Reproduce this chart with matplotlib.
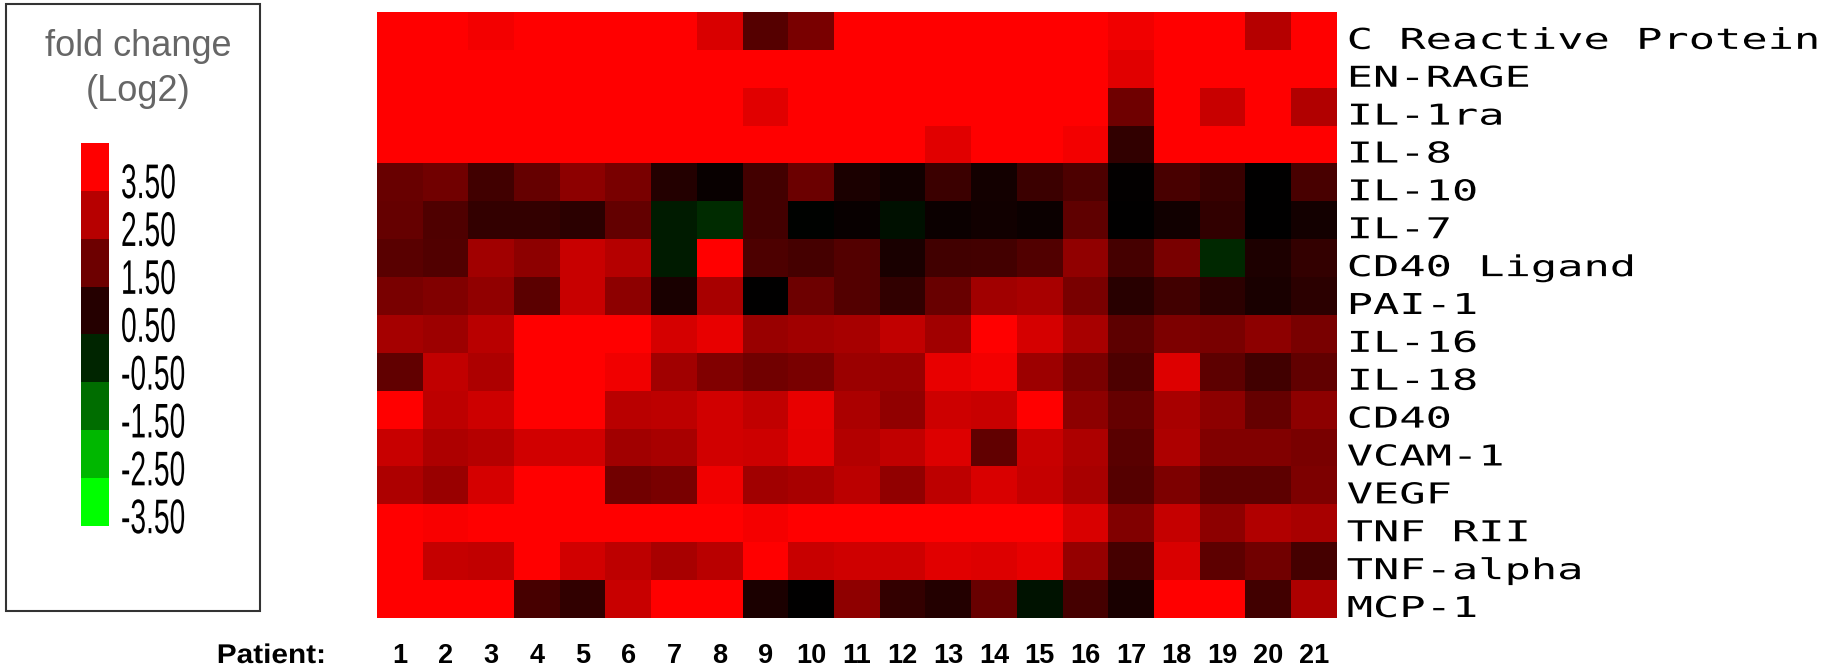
import numpy as np
import matplotlib
matplotlib.use("Agg")
import matplotlib.pyplot as plt
from matplotlib.colors import LinearSegmentedColormap, Normalize
from matplotlib.patches import Rectangle
from matplotlib.transforms import Affine2D, blended_transform_factory, offset_copy
from matplotlib import patheffects

# ---------------------------------------------------------------- data
proteins = ["C Reactive Protein", "EN-RAGE", "IL-1ra", "IL-8", "IL-10", "IL-7",
            "CD40 Ligand", "PAI-1", "IL-16", "IL-18", "CD40", "VCAM-1", "VEGF",
            "TNF RII", "TNF-alpha", "MCP-1"]

patients = ["1", "2", "3", "4", "5", "6", "7", "8", "9", "10", "11", "12", "13",
            "14", "15", "16", "17", "18", "19", "20", "21"]

# log2 fold change per patient (columns 1..21)
crp        = [3.5, 3.5, 3.32, 3.5, 3.5, 3.5, 3.5, 2.96, 1.15, 1.65, 3.5, 3.5, 3.5, 3.5, 3.5, 3.5, 3.29, 3.5, 3.5, 2.47, 3.5]
en_rage    = [3.5, 3.5, 3.5, 3.5, 3.5, 3.5, 3.5, 3.5, 3.5, 3.5, 3.5, 3.5, 3.5, 3.5, 3.5, 3.5, 3.07, 3.5, 3.5, 3.5, 3.5]
il_1ra     = [3.5, 3.5, 3.5, 3.5, 3.5, 3.5, 3.5, 3.5, 3.07, 3.5, 3.5, 3.5, 3.5, 3.5, 3.5, 3.5, 1.51, 3.5, 2.74, 3.5, 2.42]
il_8       = [3.5, 3.5, 3.5, 3.5, 3.5, 3.5, 3.5, 3.5, 3.5, 3.5, 3.5, 3.5, 3.07, 3.5, 3.5, 3.32, 0.66, 3.5, 3.5, 3.5, 3.5]
il_10      = [1.43, 1.54, 0.88, 1.37, 1.92, 1.65, 0.47, 0.11, 0.91, 1.45, 0.38, 0.22, 0.82, 0.27, 0.82, 1.04, 0.03, 0.99, 0.77, 0.0, 0.99]
il_7       = [1.37, 1.07, 0.71, 0.71, 0.60, 1.35, -0.36, -0.60, 0.91, -0.05, 0.11, -0.22, 0.16, 0.22, 0.16, 1.29, 0.0, 0.22, 0.66, 0.0, 0.27]
cd40_lig   = [1.21, 1.10, 2.20, 1.92, 2.74, 2.47, -0.38, 3.5, 1.04, 0.93, 1.13, 0.33, 0.88, 0.91, 1.10, 1.98, 0.93, 1.65, -0.55, 0.41, 0.71]
pai_1      = [1.65, 1.76, 1.98, 1.24, 2.74, 1.92, 0.33, 2.31, 0.0, 1.48, 1.13, 0.66, 1.43, 2.20, 2.31, 1.65, 0.55, 0.88, 0.60, 0.33, 0.60]
il_16      = [2.25, 2.14, 2.53, 3.5, 3.5, 3.5, 2.91, 3.18, 2.09, 2.20, 2.28, 2.64, 2.20, 3.5, 2.91, 2.31, 1.26, 1.70, 1.65, 1.92, 1.65]
il_18      = [1.32, 2.64, 2.36, 3.5, 3.5, 3.29, 2.20, 1.76, 1.54, 1.65, 2.12, 2.09, 3.18, 3.32, 2.14, 1.65, 1.04, 3.02, 1.26, 0.88, 1.32]
cd40       = [3.5, 2.58, 2.80, 3.5, 3.5, 2.53, 2.58, 2.85, 2.64, 3.18, 2.34, 1.98, 2.80, 2.74, 3.5, 1.92, 1.37, 2.31, 1.92, 1.37, 1.92]
vcam_1     = [2.74, 2.36, 2.47, 2.85, 2.85, 2.20, 2.31, 2.85, 2.80, 3.13, 2.45, 2.64, 3.02, 1.32, 2.74, 2.36, 1.21, 2.36, 1.76, 1.76, 1.65]
vegf       = [2.36, 2.09, 2.91, 3.5, 3.5, 1.54, 1.65, 3.29, 2.20, 2.31, 2.56, 1.98, 2.58, 2.96, 2.69, 2.31, 1.15, 1.70, 1.26, 1.26, 1.70]
tnf_rii    = [3.5, 3.40, 3.5, 3.5, 3.5, 3.5, 3.5, 3.5, 3.35, 3.5, 3.5, 3.5, 3.5, 3.5, 3.5, 2.96, 1.76, 2.69, 1.92, 2.42, 2.31]
tnf_alpha  = [3.5, 2.69, 2.64, 3.5, 2.85, 2.58, 2.31, 2.53, 3.5, 2.74, 2.82, 2.80, 3.07, 3.02, 3.18, 2.03, 0.93, 2.96, 1.26, 1.54, 0.93]
mcp_1      = [3.5, 3.5, 3.5, 0.96, 0.66, 2.74, 3.5, 3.5, 0.38, 0.0, 1.95, 0.71, 0.49, 1.43, -0.27, 0.93, 0.33, 3.5, 3.5, 0.88, 2.36]

legend_levels = [3.5, 2.5, 1.5, 0.5, -0.5, -1.5, -2.5, -3.5]

fold_change = np.array([crp, en_rage, il_1ra, il_8, il_10, il_7, cd40_lig, pai_1,
                        il_16, il_18, cd40, vcam_1, vegf, tnf_rii, tnf_alpha, mcp_1])


# ---------------------------------------------------------------- helpers
class Stretch(patheffects.AbstractPathEffect):
    """Scale glyph outlines horizontally about the pen origin or the ink centre."""

    def __init__(self, sx, anchor="left"):
        super().__init__()
        self.sx = sx
        self.anchor = anchor

    def draw_path(self, renderer, gc, tpath, affine, rgbFace=None):
        cx = 0.0
        if self.anchor == "center":
            ext = tpath.get_extents()
            cx = 0.5 * (ext.x0 + ext.x1)
        st = Affine2D().translate(-cx, 0).scale(self.sx, 1.0).translate(cx, 0)
        renderer.draw_path(gc, tpath, st + affine, rgbFace)


W, H = 1838, 670
fig = plt.figure(figsize=(W / 100, H / 100), dpi=100, facecolor="white")

cmap = LinearSegmentedColormap.from_list(
    "green_black_red", [(0.0, "#00ff00"), (0.5, "#000000"), (1.0, "#ff0000")])
norm = Normalize(vmin=-3.5, vmax=3.5)

# ---------------------------------------------------------------- heat map
ax = fig.add_axes([377 / W, (H - 618) / H, 959.7 / W, 606 / H])
ax.imshow(fold_change, cmap=cmap, norm=norm, aspect="auto",
          interpolation="nearest")
ax.set_axis_off()

row_trans = offset_copy(blended_transform_factory(ax.transAxes, ax.transData),
                        fig=fig, x=10, y=1, units="dots")
for i, name in enumerate(proteins):
    ax.text(1.0, i + 0.5, name, transform=row_trans, ha="left", va="baseline",
            family="DejaVu Sans Mono", fontsize=20.7, color="black",
            path_effects=[Stretch(1.52)])

# patient numbers under the columns
label_y = 7.0 / H
col_trans = blended_transform_factory(ax.transData, fig.transFigure)
for j, lab in enumerate(patients):
    ax.text(j, label_y, lab, transform=col_trans, ha="center", va="baseline",
            family="Liberation Sans", fontweight="bold", fontsize=19.5,
            color="black")
fig.text(271.5 / W, label_y, "Patient:", ha="center", va="baseline",
         family="Liberation Sans", fontweight="bold", fontsize=19.5,
         color="black", path_effects=[Stretch(1.1, anchor="center")])

# ---------------------------------------------------------------- legend
fig.add_artist(Rectangle((6 / W, (H - 611) / H), 254 / W, 607 / H,
                         transform=fig.transFigure, fill=False,
                         edgecolor="#333333", linewidth=1.5))
fig.text(138 / W, (H - 55.5) / H, "fold change", ha="center", va="baseline",
         family="Liberation Sans", fontsize=26, color="#666666")
fig.text(138 / W, (H - 101) / H, "(Log2)", ha="center", va="baseline",
         family="Liberation Sans", fontsize=26, color="#666666")

lax = fig.add_axes([81 / W, (H - 525.7) / H, 28 / W, 383 / H])
lax.imshow(np.array(legend_levels)[:, None], cmap=cmap, norm=norm,
           aspect="auto", interpolation="nearest")
lax.set_axis_off()
lab_trans = offset_copy(blended_transform_factory(lax.transAxes, lax.transData),
                        fig=fig, x=12, y=-7.5, units="dots")
for i, v in enumerate(legend_levels):
    lax.text(1.0, i + 0.5, f"{v:.2f}", transform=lab_trans, ha="left",
             va="baseline", family="Liberation Sans", fontsize=35,
             color="black", path_effects=[Stretch(0.58)])

fig.savefig("out.png", dpi=100, facecolor="white")
